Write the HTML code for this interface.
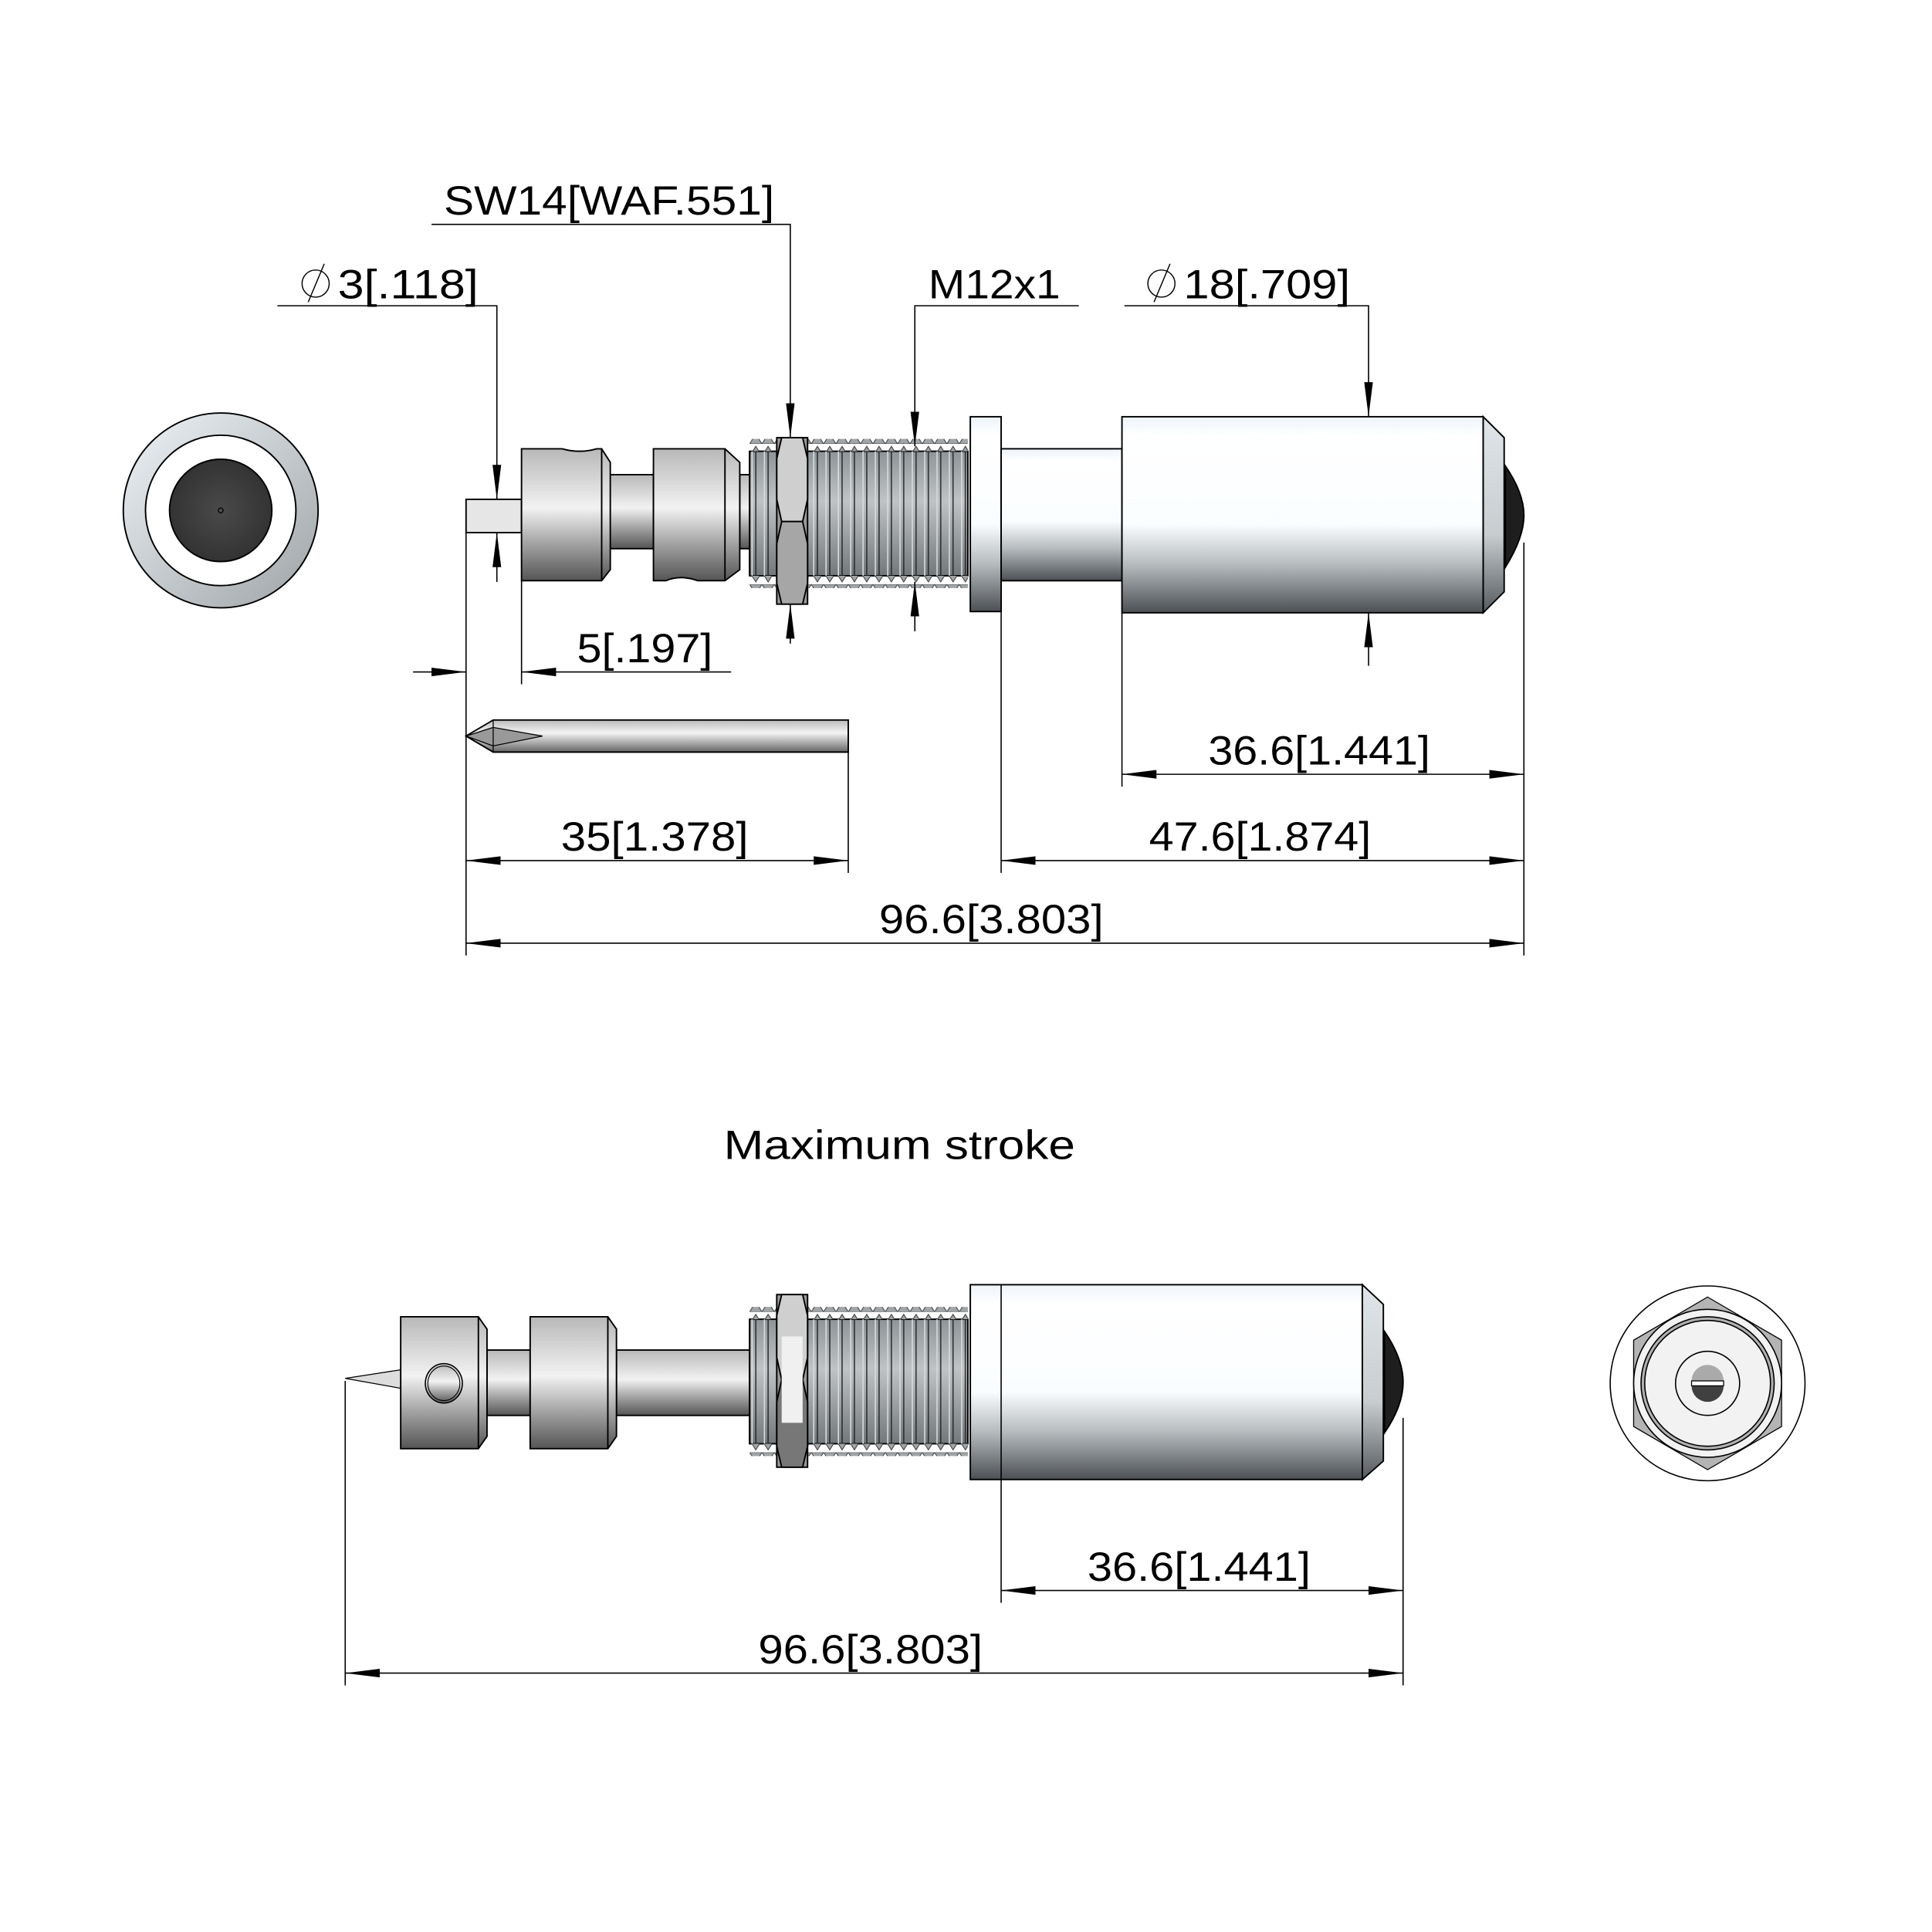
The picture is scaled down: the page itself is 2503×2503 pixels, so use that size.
<!DOCTYPE html>
<html><head><meta charset="utf-8"><style>html,body{margin:0;padding:0;background:#fff}svg{display:block}</style></head>
<body>
<svg width="2503" height="2503" viewBox="0 0 1567 1567" xmlns="http://www.w3.org/2000/svg" font-family="'Liberation Sans', sans-serif">
<defs>
<linearGradient id="g1" x1="0" y1="0" x2="0" y2="1">
<stop offset="0" stop-color="#b8b8b8"/><stop offset="0.45" stop-color="#f2f2f2"/><stop offset="0.7" stop-color="#a8a8a8"/><stop offset="1" stop-color="#555"/></linearGradient>
<linearGradient id="gb" x1="0" y1="0" x2="0" y2="1">
<stop offset="0" stop-color="#eef4fa"/><stop offset="0.1" stop-color="#fff"/><stop offset="0.55" stop-color="#fafdff"/><stop offset="0.75" stop-color="#b8bdc0"/><stop offset="1" stop-color="#4c5054"/></linearGradient>
<linearGradient id="gc" x1="0" y1="0" x2="0" y2="1">
<stop offset="0" stop-color="#dfe5e8"/><stop offset="0.6" stop-color="#c8cdd0"/><stop offset="1" stop-color="#555a5e"/></linearGradient>
<linearGradient id="gt" x1="0" y1="0" x2="0" y2="1">
<stop offset="0" stop-color="#8e9497"/><stop offset="0.4" stop-color="#bfc3c5"/><stop offset="1" stop-color="#73787b"/></linearGradient>
<linearGradient id="gs" x1="0" y1="0" x2="0" y2="1">
<stop offset="0" stop-color="#bbb"/><stop offset="0.4" stop-color="#f4f4f4"/><stop offset="1" stop-color="#666"/></linearGradient>
<linearGradient id="gr" x1="0" y1="0" x2="1" y2="1">
<stop offset="0" stop-color="#eef3f7"/><stop offset="1" stop-color="#9ea3a6"/></linearGradient>
<radialGradient id="gd" cx="0.5" cy="0.5" r="0.5"><stop offset="0" stop-color="#4a4a4a"/><stop offset="1" stop-color="#333"/></radialGradient>
<pattern id="thr" x="608" y="0" width="10" height="10" patternUnits="userSpaceOnUse">
<rect width="10" height="10" fill="none"/><line x1="5" y1="0" x2="5" y2="10" stroke="#222" stroke-width="0.9"/><line x1="2" y1="0" x2="2" y2="10" stroke="#d8dbdd" stroke-width="1"/></pattern>
<pattern id="tt" x="608" y="0" width="10" height="10" patternUnits="userSpaceOnUse">
<polygon points="0,10 5,2 10,10" fill="#a0a5a8" stroke="#333" stroke-width="0.6"/></pattern>
<marker id="a" viewBox="0 0 28 8" refX="28" refY="4" markerWidth="28" markerHeight="8" markerUnits="userSpaceOnUse" orient="auto-start-reverse"><polygon points="0,0.5 28,4 0,7.5" fill="#000"/></marker>
</defs>
<g stroke="#000" stroke-width="1.2">
<circle cx="179" cy="414" r="79" fill="url(#gr)"/>
<circle cx="179" cy="414" r="61" fill="#fff"/>
<circle cx="179" cy="414" r="41.5" fill="url(#gd)"/>
<circle cx="179" cy="414" r="2" fill="none" stroke-width="0.8"/>

<rect x="378" y="405" width="45" height="27" fill="#e6e6e6"/>
<rect x="493" y="385" width="37" height="60" fill="url(#g1)"/>
<rect x="600" y="385" width="10" height="60" fill="url(#g1)"/>
<path d="M423,364 H456 Q470,368 484,364 H488 L495,375 V462 L488,471 H423 Z" fill="url(#g1)"/>
<line x1="488" y1="364" x2="488" y2="471"/>
<path d="M530,364 H588 L600,375 V462 L588,471 H566 Q552,466 540,471 H530 Z" fill="url(#g1)"/>
<line x1="588" y1="364" x2="588" y2="471"/>
<rect x="608" y="366" width="177" height="101" fill="url(#gt)"/>
<rect x="608" y="366" width="177" height="101" fill="url(#thr)" stroke="none"/>
<rect x="608" y="356" width="177" height="10" fill="url(#tt)" stroke="none"/>
<rect x="608" y="467" width="177" height="10" fill="url(#tt)" stroke="none" transform="translate(0,944) scale(1,-1)"/>
<line x1="608" y1="366" x2="608" y2="467"/>
<rect x="630" y="355" width="25" height="135" fill="#9a9a9a"/>
<path d="M634,355 H651 L655,372 V405 L651,423 H634 L630,405 V372 Z" fill="#cfcfcf"/>
<path d="M634,423 H651 L655,441 V473 L651,490 H634 L630,473 V441 Z" fill="#a6a6a6"/>
<rect x="787" y="338" width="25" height="158" fill="url(#gb)"/>
<rect x="812" y="364" width="98" height="107" fill="url(#gb)"/>
<rect x="910" y="338" width="293" height="159" fill="url(#gb)"/>
<polygon points="1203,338 1220,355 1220,480 1203,497" fill="url(#gc)"/>
<path d="M1221,378 Q1236,400 1236,418 Q1236,436 1221,460 Z" fill="#1e1e1e"/>

<polygon points="378,597 400,584 688,584 688,610 400,610" fill="url(#gs)"/>
<polygon points="378,597 400,590 440,597 400,605" fill="#999" stroke-width="0.8"/>
<line x1="400" y1="584" x2="400" y2="610" stroke-width="0.8"/>

<polygon points="280,1118 325,1111 325,1126" fill="#ddd" stroke-width="0.8"/>
<rect x="395" y="1095" width="35" height="53" fill="url(#g1)"/>
<rect x="500" y="1095" width="108" height="53" fill="url(#g1)"/>
<path d="M325,1068 H388 L395,1078 V1165 L388,1175 H325 Z" fill="url(#g1)"/>
<line x1="388" y1="1068" x2="388" y2="1175"/>
<ellipse cx="360" cy="1122" rx="15" ry="16" fill="url(#g1)" stroke-width="1"/>
<ellipse cx="360" cy="1122" rx="13" ry="14" fill="none" stroke-width="0.7"/>
<path d="M430,1068 H493 L500,1078 V1165 L493,1175 H430 Z" fill="url(#g1)"/>
<line x1="493" y1="1068" x2="493" y2="1175"/>
<g transform="translate(0,704)">
<rect x="608" y="366" width="177" height="101" fill="url(#gt)"/>
<rect x="608" y="366" width="177" height="101" fill="url(#thr)" stroke="none"/>
<rect x="608" y="356" width="177" height="10" fill="url(#tt)" stroke="none"/>
<rect x="608" y="467" width="177" height="10" fill="url(#tt)" stroke="none" transform="translate(0,944) scale(1,-1)"/>
<line x1="608" y1="366" x2="608" y2="467"/>
<rect x="630" y="346" width="25" height="140" fill="#9a9a9a"/>
<path d="M634,346 H651 L655,363 V397 L651,415 H634 L630,397 V363 Z" fill="#cfcfcf"/>
<path d="M634,415 H651 L655,433 V469 L651,486 H634 L630,469 V433 Z" fill="#777"/>
<rect x="634" y="380" width="17" height="70" fill="#f0f0f0" stroke="none"/>
</g>
<rect x="787" y="1042" width="318" height="158" fill="url(#gb)"/>
<line x1="812" y1="1042" x2="812" y2="1200" stroke-width="1"/>
<polygon points="1105,1042 1122,1058 1122,1185 1105,1200" fill="url(#gc)"/>
<path d="M1123,1080 Q1138,1102 1138,1121 Q1138,1140 1123,1162 Z" fill="#1e1e1e"/>

<circle cx="1385" cy="1122" r="79" fill="#fff" stroke-width="1"/>
<polygon points="1385,1052 1445,1087 1445,1157 1385,1192 1325,1157 1325,1087" fill="#b4b4b4" stroke-width="0.8"/>
<circle cx="1385" cy="1122" r="60" fill="#f2f2f2" stroke-width="1"/>
<circle cx="1385" cy="1122" r="54" fill="#b0b0b0" stroke-width="1"/>
<circle cx="1385" cy="1122" r="51" fill="#f2f2f2" stroke-width="1"/>
<circle cx="1385" cy="1122" r="26" fill="#f2f2f2" stroke-width="1"/>
<path d="M1372,1120 A13,13 0 0 1 1398,1120 Z" fill="#aaa" stroke="none"/>
<path d="M1372,1124 A13,13 0 0 0 1398,1124 Z" fill="#404040" stroke="none"/>
<rect x="1372" y="1120" width="26" height="4" fill="#fff" stroke-width="0.8"/>
</g>

<g stroke="#000" stroke-width="1" fill="none">
<polyline points="225,248 403,248 403,405" marker-end="url(#a)"/>
<line x1="403" y1="472" x2="403" y2="432" marker-end="url(#a)"/>
<polyline points="350,182 641,182 641,355" marker-end="url(#a)"/>
<line x1="641" y1="522" x2="641" y2="490" marker-end="url(#a)"/>
<polyline points="875,248 742,248 742,362" marker-end="url(#a)"/>
<line x1="742" y1="512" x2="742" y2="472" marker-end="url(#a)"/>
<polyline points="912,248 1110,248 1110,338" marker-end="url(#a)"/>
<line x1="1110" y1="540" x2="1110" y2="497" marker-end="url(#a)"/>
<line x1="378" y1="432" x2="378" y2="775"/>
<line x1="423" y1="471" x2="423" y2="555"/>
<line x1="688" y1="610" x2="688" y2="708"/>
<line x1="812" y1="496" x2="812" y2="708"/>
<line x1="910" y1="497" x2="910" y2="638"/>
<line x1="1236" y1="440" x2="1236" y2="775"/>
<line x1="335" y1="545" x2="378" y2="545" marker-end="url(#a)"/>
<line x1="593" y1="545" x2="423" y2="545" marker-end="url(#a)"/>
<line x1="910" y1="628" x2="1236" y2="628" marker-start="url(#a)" marker-end="url(#a)"/>
<line x1="378" y1="698" x2="688" y2="698" marker-start="url(#a)" marker-end="url(#a)"/>
<line x1="812" y1="698" x2="1236" y2="698" marker-start="url(#a)" marker-end="url(#a)"/>
<line x1="378" y1="765" x2="1236" y2="765" marker-start="url(#a)" marker-end="url(#a)"/>
<line x1="280" y1="1120" x2="280" y2="1367"/>
<line x1="812" y1="1200" x2="812" y2="1300"/>
<line x1="1138" y1="1150" x2="1138" y2="1367"/>
<line x1="812" y1="1290" x2="1138" y2="1290" marker-start="url(#a)" marker-end="url(#a)"/>
<line x1="280" y1="1357" x2="1138" y2="1357" marker-start="url(#a)" marker-end="url(#a)"/>
<circle cx="256" cy="230" r="11" stroke-width="0.9"/>
<line x1="250" y1="245" x2="263" y2="214" stroke-width="0.9"/>
<circle cx="942" cy="230" r="11" stroke-width="0.9"/>
<line x1="936" y1="245" x2="949" y2="214" stroke-width="0.9"/>
</g>

<g font-size="33" fill="#000">
<text x="360" y="174" textLength="268" lengthAdjust="spacingAndGlyphs">SW14[WAF.551]</text>
<text x="274" y="242" textLength="114" lengthAdjust="spacingAndGlyphs">3[.118]</text>
<text x="753" y="242" textLength="107" lengthAdjust="spacingAndGlyphs">M12x1</text>
<text x="960" y="242" textLength="135" lengthAdjust="spacingAndGlyphs">18[.709]</text>
<text x="468" y="537" textLength="110" lengthAdjust="spacingAndGlyphs">5[.197]</text>
<text x="980" y="620" textLength="180" lengthAdjust="spacingAndGlyphs">36.6[1.441]</text>
<text x="455" y="690" textLength="152" lengthAdjust="spacingAndGlyphs">35[1.378]</text>
<text x="932" y="690" textLength="180" lengthAdjust="spacingAndGlyphs">47.6[1.874]</text>
<text x="713" y="757" textLength="182" lengthAdjust="spacingAndGlyphs">96.6[3.803]</text>
<text x="587" y="940" textLength="285" lengthAdjust="spacingAndGlyphs">Maximum stroke</text>
<text x="882" y="1282" textLength="181" lengthAdjust="spacingAndGlyphs">36.6[1.441]</text>
<text x="615" y="1349" textLength="182" lengthAdjust="spacingAndGlyphs">96.6[3.803]</text>
</g>
</svg>
</body></html>
